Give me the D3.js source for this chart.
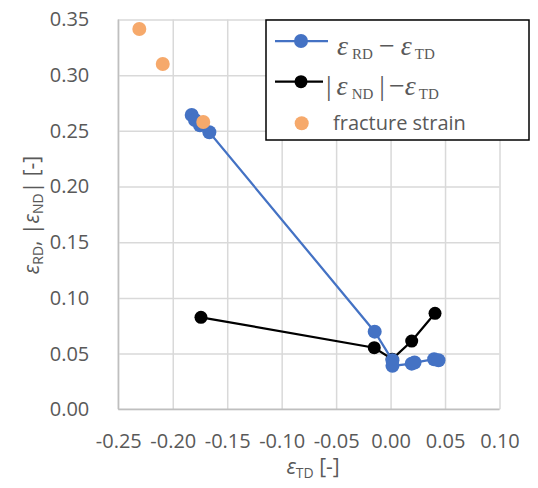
<!DOCTYPE html>
<html>
<head>
<meta charset="utf-8">
<script src="https://cdn.jsdelivr.net/npm/d3@7"></script>
<style>
  body { margin: 0; background: #fff; }
  svg { display: block; }
</style>
</head>
<body>
<div id="chart"></div>
<script>
const width = 538
const height = 488

// eps_RD vs eps_TD
const rdTD = [-0.1826, -0.1796, -0.175, -0.1664, -0.0146, 0.0017, 0.0017, 0.0194, 0.0220, 0.0400, 0.0440]
const rdVal = [0.2643, 0.2598, 0.2550, 0.2487, 0.0697, 0.0440, 0.0390, 0.0410, 0.0420, 0.0450, 0.0440]
// |eps_ND| vs eps_TD
const ndTD = [-0.1741, -0.0150, 0.0015, 0.0194, 0.0408]
const ndVal = [0.0826, 0.0553, 0.0450, 0.0613, 0.0862]
// fracture strain
const frTD = [-0.2307, -0.2092, -0.1720]
const frVal = [0.3415, 0.3100, 0.2580]

const xTicks = [-0.25, -0.20, -0.15, -0.10, -0.05, 0.00, 0.05, 0.10]
const yTicks = [0.00, 0.05, 0.10, 0.15, 0.20, 0.25, 0.30, 0.35]

const blue = '#4472C4'
const orange = '#F6A96B'
const tickFont = "'Open Sans', sans-serif"

const plot = { left: 118.3, right: 499.5, top: 19.5, bottom: 409.3 }

const x = d3.scaleLinear().domain([-0.25, 0.10]).range([plot.left, plot.right])
const y = d3.scaleLinear().domain([0, 0.35]).range([plot.bottom, plot.top])

const svg = d3.select('#chart').append('svg').attr('width', width).attr('height', height)

// excel style labels use a plain hyphen
const fmt = d => d.toFixed(2)

// gridlines + tick labels
const xAxis = d3.axisBottom(x).tickValues(xTicks).tickFormat(fmt)
  .tickSize(-(plot.bottom - plot.top)).tickPadding(24.5)
const yAxis = d3.axisLeft(y).tickValues(yTicks).tickFormat(fmt)
  .tickSize(-(plot.right - plot.left)).tickPadding(29)

const xAxisGroup = svg.append('g').attr('transform', `translate(0, ${plot.bottom})`).call(xAxis)
const yAxisGroup = svg.append('g').attr('transform', `translate(${plot.left}, 0)`).call(yAxis)

;[xAxisGroup, yAxisGroup].forEach(g => {
  g.select('.domain').remove()
  g.selectAll('.tick line').attr('stroke', '#d9d9d9').attr('stroke-width', 1.5)
  g.selectAll('.tick text')
    .attr('font-family', tickFont)
    .attr('font-size', 20)
    .attr('fill', '#595959')
})

// axis lines
svg.append('line').attr('x1', plot.left).attr('x2', plot.left).attr('y1', plot.top).attr('y2', plot.bottom)
  .attr('stroke', '#bfbfbf').attr('stroke-width', 1.5)
svg.append('line').attr('x1', plot.left).attr('x2', plot.right).attr('y1', plot.bottom).attr('y2', plot.bottom)
  .attr('stroke', '#bfbfbf').attr('stroke-width', 1.5)

const line = d3.line().x(d => x(d[0])).y(d => y(d[1]))

const ndData = ndTD.map((v, i) => [v, ndVal[i]])
const rdData = rdTD.map((v, i) => [v, rdVal[i]])
const frData = frTD.map((v, i) => [v, frVal[i]])

// black series first, blue drawn on top
svg.append('path').datum(ndData).attr('d', line).attr('fill', 'none').attr('stroke', '#000').attr('stroke-width', 2.25)
svg.append('g').selectAll('circle').data(ndData).enter().append('circle')
  .attr('cx', d => x(d[0])).attr('cy', d => y(d[1])).attr('r', 6.5).attr('fill', '#000')

svg.append('path').datum(rdData).attr('d', line).attr('fill', 'none').attr('stroke', blue).attr('stroke-width', 2.25)
svg.append('g').selectAll('circle').data(rdData).enter().append('circle')
  .attr('cx', d => x(d[0])).attr('cy', d => y(d[1])).attr('r', 7).attr('fill', blue)

svg.append('g').selectAll('circle').data(frData).enter().append('circle')
  .attr('cx', d => x(d[0])).attr('cy', d => y(d[1])).attr('r', 7).attr('fill', orange)

// axis titles
const xTitle = svg.append('text').attr('x', 313).attr('y', 474).attr('text-anchor', 'middle')
  .attr('font-family', tickFont).attr('font-size', 21).attr('fill', '#595959')
xTitle.append('tspan').attr('font-style', 'italic').text('ε')
xTitle.append('tspan').attr('font-size', 14).attr('dy', 4).text('TD')
xTitle.append('tspan').attr('dy', -4).text(' [-]')

const yTitle = svg.append('text').attr('transform', 'translate(39, 215) rotate(-90)').attr('text-anchor', 'middle')
  .attr('font-family', tickFont).attr('font-size', 21).attr('fill', '#595959')
yTitle.append('tspan').attr('font-style', 'italic').text('ε')
yTitle.append('tspan').attr('font-size', 14).attr('dy', 4).text('RD')
yTitle.append('tspan').attr('dy', -4).text(', |')
yTitle.append('tspan').attr('font-style', 'italic').text('ε')
yTitle.append('tspan').attr('font-size', 14).attr('dy', 4).text('ND')
yTitle.append('tspan').attr('dy', -4).text('| [-]')

// legend
const legend = svg.append('g')
legend.append('rect').attr('x', 266).attr('y', 20).attr('width', 263).attr('height', 120)
  .attr('fill', '#fff').attr('stroke', '#000').attr('stroke-width', 1.5)

const serif = "'Liberation Serif', 'DejaVu Serif', serif"

// row 1
legend.append('line').attr('x1', 275).attr('x2', 328).attr('y1', 41).attr('y2', 41).attr('stroke', blue).attr('stroke-width', 2.25)
legend.append('circle').attr('cx', 301).attr('cy', 41).attr('r', 7).attr('fill', blue)
const t1 = legend.append('text').attr('x', 337).attr('y', 55).attr('font-family', serif).attr('font-size', 28).attr('fill', '#595959')
t1.append('tspan').attr('font-style', 'italic').text('ε')
t1.append('tspan').attr('font-size', 15).attr('dy', 4).attr('dx', 4).text('RD')
t1.append('tspan').attr('dy', -4).attr('dx', 6).text('−')
t1.append('tspan').attr('font-style', 'italic').attr('dx', 6).text('ε')
t1.append('tspan').attr('font-size', 15).attr('dy', 4).attr('dx', 3).text('TD')

// row 2
legend.append('line').attr('x1', 275).attr('x2', 323).attr('y1', 81.7).attr('y2', 81.7).attr('stroke', '#000').attr('stroke-width', 2.25)
legend.append('circle').attr('cx', 301).attr('cy', 81.7).attr('r', 6.5).attr('fill', '#000')
const t2 = legend.append('text').attr('x', 326).attr('y', 95).attr('font-family', serif).attr('font-size', 28).attr('fill', '#595959')
t2.append('tspan').text('|')
t2.append('tspan').attr('font-style', 'italic').attr('dx', 5).text('ε')
t2.append('tspan').attr('font-size', 15).attr('dy', 4).attr('dx', 4).text('ND')
t2.append('tspan').attr('dy', -4).attr('dx', 6).text('|')
t2.append('tspan').attr('dx', 4).text('−')
t2.append('tspan').attr('font-style', 'italic').text('ε')
t2.append('tspan').attr('font-size', 15).attr('dy', 4).attr('dx', 3).text('TD')

// row 3
legend.append('circle').attr('cx', 301.7).attr('cy', 123.3).attr('r', 7).attr('fill', orange)
legend.append('text').attr('x', 333).attr('y', 130).attr('font-family', tickFont).attr('font-size', 20)
  .attr('fill', '#595959').text('fracture strain')
</script>
</body>
</html>
